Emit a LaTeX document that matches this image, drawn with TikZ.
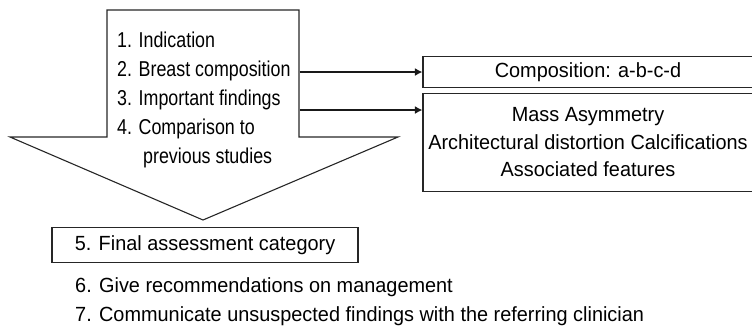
\documentclass[tikz,border=0pt]{standalone}
\usepackage{fontspec}
\setmainfont[FakeStretch=0.97]{Liberation Sans}
\newfontfamily\narrowfont[FakeStretch=0.83]{Liberation Sans}
\usetikzlibrary{arrows.meta}
\tikzset{
  outline/.style={draw=black!85, line width=1.1pt},
  boxnode/.style={outline, rectangle, inner sep=0pt, align=center,
    font=\fontsize{20.5}{27.5}\selectfont},
  inlist/.style={anchor=base west, inner sep=0pt, font=\narrowfont\fontsize{21.5}{25}\selectfont},
  botline/.style={anchor=base west, inner sep=0pt, font=\fontsize{20.5}{24}\selectfont},
  link/.style={draw=black!90, line width=1.8pt, -{Latex[length=7.5pt,width=8pt]}}
}
\begin{document}
\begin{tikzpicture}[x=1pt,y=-1pt]
\useasboundingbox (0,0) rectangle (752,325);
% big downward arrow
\draw[outline, line join=miter] (107,10) -- (299,10) -- (299,137) -- (398,137) -- (203,220)
  -- (10,137) -- (107,137) -- cycle;
\node[inlist] (l1) at (117,47.5) {1. Indication};
\node[inlist] (l2) at (117,76.5) {2. Breast composition};
\node[inlist] (l3) at (117,105.5) {3. Important findings};
\node[inlist] (l4) at (117,134.5) {4. Comparison to};
\node[inlist] (l5) at (143,163.5) {previous studies};
% right boxes
\node[boxnode, minimum width=330pt, minimum height=31.5pt] (comp) at (588,72) {Composition: a-b-c-d};
\node[boxnode, minimum width=330pt, minimum height=98pt] (find) at (588,142.5)
  {Mass Asymmetry\\Architectural distortion Calcifications\\Associated features};
\coordinate (a1) at (299.5,72);
\coordinate (a2) at (299.5,110);
\draw[link] (a1) -- (comp.west |- a1);
\draw[link] (a2) -- (find.west |- a2);
% bottom
\node[boxnode, minimum width=306pt, minimum height=35pt] (final) at (205,245.2) {5. Final assessment category};
\node[botline] (l6) at (75,292) {6. Give recommendations on management};
\node[botline] (l7) at (75,321) {7. Communicate unsuspected findings with the referring clinician};
\end{tikzpicture}
\end{document}
